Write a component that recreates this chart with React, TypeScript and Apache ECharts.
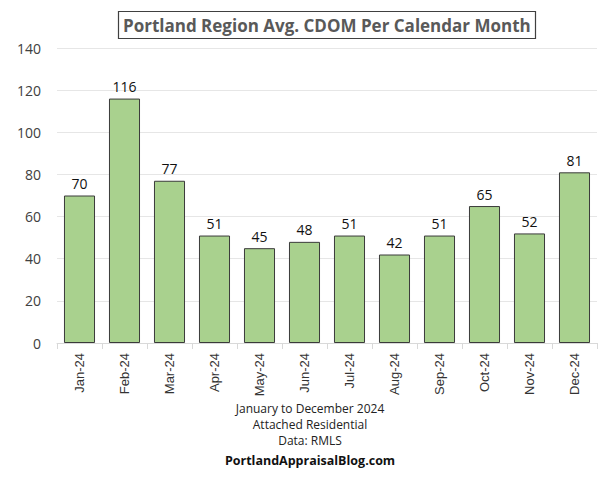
import React, { useEffect, useRef } from "react";
import * as echarts from "echarts";

const categories = ["Jan-24", "Feb-24", "Mar-24", "Apr-24", "May-24", "Jun-24", "Jul-24", "Aug-24", "Sep-24", "Oct-24", "Nov-24", "Dec-24"];
const cdomValues = [70, 116, 77, 51, 45, 48, 51, 42, 51, 65, 52, 81];
const titleText = "Portland Region Avg. CDOM Per Calendar Month";
const footerLines = ["January to December 2024", "Attached Residential", "Data: RMLS"];
const footerBold = "PortlandAppraisalBlog.com";

export default function App() {
  const ref = useRef<HTMLDivElement>(null);
  useEffect(() => {
    document.body.style.margin = "0";
    if (!ref.current) return;
    const chart = echarts.init(ref.current, null, { renderer: "svg" });
    const font = "'Open Sans', 'Noto Sans', sans-serif";
    chart.setOption({
      animation: false,
      backgroundColor: "#ffffff",
      title: {
        text: titleText,
        left: 118,
        top: 11,
        padding: [6, 5, 5, 5],
        borderColor: "#404040",
        borderWidth: 1.2,
        textStyle: { fontFamily: font, fontSize: 17, fontWeight: "bold", color: "#595959" },
      },
      grid: { left: 57, right: 10, top: 48, bottom: 137 },
      xAxis: {
        type: "category",
        data: categories,
        axisLine: { lineStyle: { color: "#d9d9d9" } },
        axisTick: { show: true, length: 6, lineStyle: { color: "#d9d9d9" } },
        axisLabel: { rotate: 90, fontFamily: "'Liberation Sans', Arial, sans-serif", fontSize: 13, color: "#333333", margin: 10 },
      },
      yAxis: {
        type: "value",
        min: 0,
        max: 140,
        interval: 20,
        axisLine: { show: false },
        axisTick: { show: false },
        splitLine: { lineStyle: { color: "#e6e6e6" } },
        axisLabel: { fontFamily: font, fontSize: 14, color: "#404040", margin: 16 },
      },
      series: [
        {
          type: "bar",
          data: cdomValues,
          barCategoryGap: "31%",
          itemStyle: { color: "#a9d18e", borderColor: "#3a3a3a", borderWidth: 1 },
          label: { show: true, position: "top", distance: 5, fontFamily: font, fontSize: 14, color: "#111111" },
        },
      ],
      graphic: [
        ...footerLines.map((t, i) => ({
          type: "text",
          x: 310,
          y: 402 + i * 16,
          style: { text: t, align: "center", verticalAlign: "top", fontFamily: font, fontSize: 12, fill: "#222222" },
        })),
        {
          type: "text",
          x: 310,
          y: 454,
          style: { text: footerBold, align: "center", verticalAlign: "top", fontFamily: font, fontSize: 12.5, fontWeight: "bold", fill: "#111111" },
        },
      ],
    });
    return () => chart.dispose();
  }, []);
  return <div ref={ref} style={{ width: 607, height: 480 }} />;
}
